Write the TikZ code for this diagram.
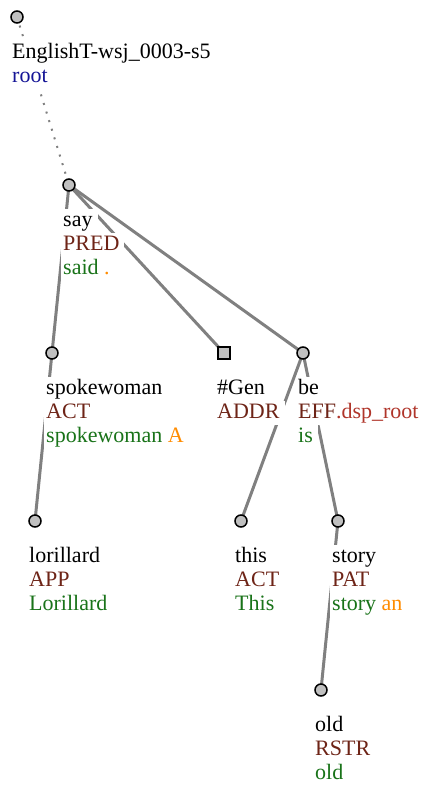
\documentclass[tikz,border=0pt]{standalone}
\usepackage{fontspec}
\setmainfont{Liberation Serif}
\definecolor{fnc}{RGB}{110,36,23}
\definecolor{fnx}{RGB}{176,53,42}
\definecolor{rootc}{RGB}{20,20,150}
\definecolor{formc}{RGB}{25,115,25}
\definecolor{auxc}{RGB}{255,140,0}
\definecolor{edgec}{RGB}{128,128,128}
\definecolor{nodefill}{RGB}{192,192,192}
\tikzset{
  x=1pt, y=-1pt,
  tnode/.style={circle, draw=black, line width=1.5pt, fill=nodefill, minimum size=12pt, inner sep=0pt},
  gnode/.style={rectangle, draw=black, line width=1.5pt, fill=nodefill, minimum size=12pt, inner sep=0pt},
  edge/.style={draw=edgec, line width=3pt},
  rootedge/.style={draw=edgec, line width=2pt, dash pattern=on 2pt off 7pt},
  lbl/.style={anchor=base west, inner xsep=0pt, inner ysep=0pt, fill=white, text height=17pt, text depth=7pt, font=\fontsize{22}{24}\selectfont},
}
\newcommand{\lp}[1]{\hspace*{2pt}#1\hspace*{5pt}}
\newcommand{\tlabel}[5]{%
  \node[lbl] (#1a) at (#2-2,#3+41) {\lp{#4}};
  \node[lbl] (#1b) at (#2-2,#3+65) {\lp{#5}};
}
\newcommand{\tlabelc}[6]{%
  \node[lbl] (#1a) at (#2-2,#3+41) {\lp{#4}};
  \node[lbl] (#1b) at (#2-2,#3+65) {\lp{#5}};
  \node[lbl] (#1c) at (#2-2,#3+89) {\lp{#6}};
}
\begin{document}
\begin{tikzpicture}
\useasboundingbox (0,0) rectangle (422,785);
% node positions
\coordinate (root) at (17,17);
\coordinate (say) at (69,185);
\coordinate (spk) at (52,353);
\coordinate (gen) at (224,353);
\coordinate (be) at (303,353);
\coordinate (lor) at (35,521);
\coordinate (this) at (241,521);
\coordinate (story) at (338,521);
\coordinate (old) at (321,690);
% edges
\draw[rootedge] (root) -- (say);
\draw[edge] (say) -- (spk);
\draw[edge] (say) -- (gen);
\draw[edge] (say) -- (be);
\draw[edge] (spk) -- (lor);
\draw[edge] (be) -- (this);
\draw[edge] (be) -- (story);
\draw[edge] (story) -- (old);
% labels
\tlabel{lroot}{12}{17}{EnglishT-wsj\_0003-s5}{\textcolor{rootc}{root}}
\tlabelc{lsay}{63}{185}{say}{\textcolor{fnc}{PRED}}{\textcolor{formc}{said} \textcolor{auxc}{.}}
\tlabelc{lspk}{46}{353}{spokewoman}{\textcolor{fnc}{ACT}}{\textcolor{formc}{spokewoman} \textcolor{auxc}{A}}
\tlabel{lgen}{217}{353}{\#Gen}{\textcolor{fnc}{ADDR}}
\tlabelc{lbe}{298}{353}{be}{\textcolor{fnc}{EFF}\textcolor{fnx}{.dsp\_root}}{\textcolor{formc}{is}}
\tlabelc{llor}{29}{521}{lorillard}{\textcolor{fnc}{APP}}{\textcolor{formc}{Lorillard}}
\tlabelc{lthis}{235}{521}{this}{\textcolor{fnc}{ACT}}{\textcolor{formc}{This}}
\tlabelc{lstory}{332}{521}{story}{\textcolor{fnc}{PAT}}{\textcolor{formc}{story} \textcolor{auxc}{an}}
\tlabelc{lold}{315}{690}{old}{\textcolor{fnc}{RSTR}}{\textcolor{formc}{old}}
% node shapes
\node[tnode] (nroot) at (root) {};
\node[tnode] (nsay) at (say) {};
\node[tnode] (nspk) at (spk) {};
\node[gnode] (ngen) at (gen) {};
\node[tnode] (nbe) at (be) {};
\node[tnode] (nlor) at (lor) {};
\node[tnode] (nthis) at (this) {};
\node[tnode] (nstory) at (story) {};
\node[tnode] (nold) at (old) {};
\end{tikzpicture}
\end{document}
